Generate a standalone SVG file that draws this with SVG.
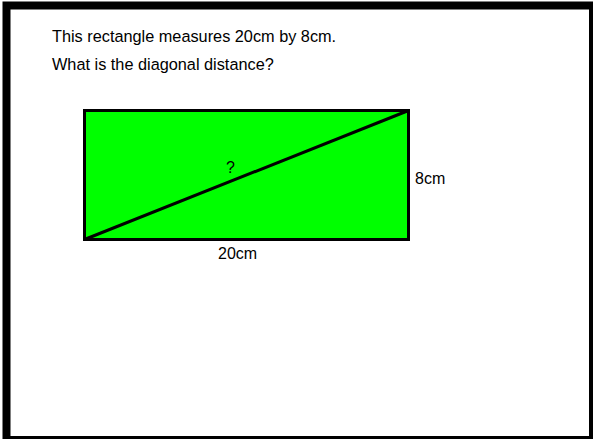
<svg xmlns="http://www.w3.org/2000/svg" width="593" height="439" viewBox="0 0 593 439">
<style>
text { font-family: "Liberation Sans", Arial, sans-serif; font-size: 16px; fill: #000; }
.q { font-size: 16.3px; }
.shape { fill: #00ff00; stroke: #000; stroke-width: 3; }
.diag { stroke: #000; stroke-width: 3; fill: none; }
</style>
<rect x="0" y="0" width="593" height="439" fill="#fff"/>
<rect id="frame" x="6.5" y="5.5" width="586.5" height="434.5" fill="none" stroke="#000" stroke-width="8"/>
<g id="question">
<text class="q" x="52" y="42">This rectangle measures 20cm by 8cm.</text>
<text class="q" x="52" y="70">What is the diagonal distance?</text>
</g>
<g id="rectangle">
<rect class="shape" x="84.5" y="110.5" width="324" height="129"/>
</g>
<g id="connectors">
<line class="diag" x1="84.5" y1="239.5" x2="408.5" y2="110.5"/>
</g>
<g id="labels">
<text x="226" y="173">?</text>
<text x="415" y="184">8cm</text>
<text x="218" y="259">20cm</text>
</g>
</svg>
